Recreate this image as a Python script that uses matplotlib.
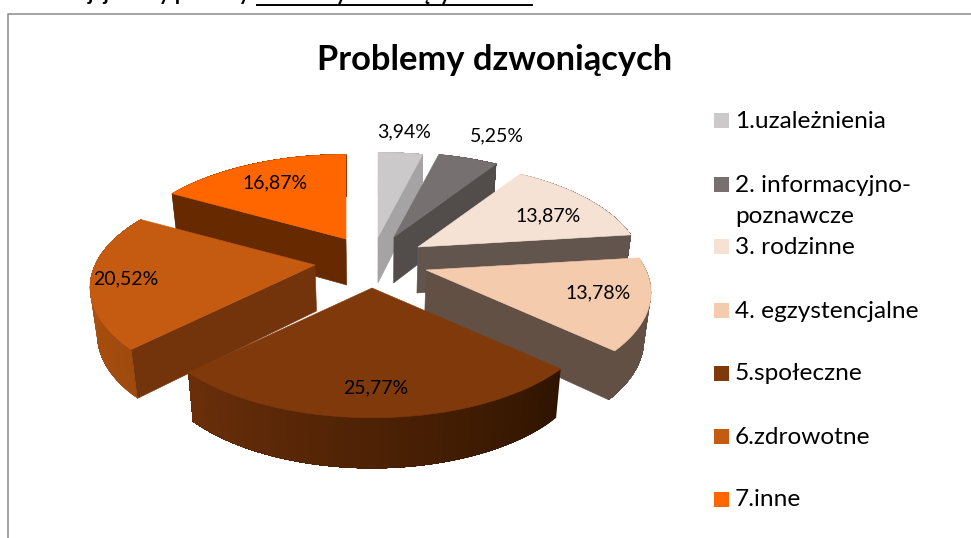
#!/usr/bin/env python3
"""Problemy dzwoniacych - exploded 3D pie, drawn as polygons in pixel space."""
import numpy as np
import matplotlib
matplotlib.use("Agg")
import matplotlib.pyplot as plt
from matplotlib.patches import Polygon, Rectangle

plt.rcParams['font.family'] = ['Lato', 'DejaVu Sans']

# Data
labels = ['1.uzależnienia', '2. informacyjno-\npoznawcze', '3. rodzinne',
          '4. egzystencjalne', '5.społeczne', '6.zdrowotne', '7.inne']
values = [3.94, 5.25, 13.87, 13.78, 25.77, 20.52, 16.87]

# Styles
top_colors = ['#cbc9c9', '#767170', '#f6e2d4', '#f5cbad', '#80390a', '#c55a11', '#ff6600']
side_colors = ['#a5a3a3', '#524d4b', '#62554e', '#625045', '#73340c', '#73340c', '#672a00']
# outer wall gradient, at slice start and slice end
outer_colors = [('#a5a3a3', '#a5a3a3'), ('#524d4b', '#524d4b'), ('#62554e', '#62554e'),
                ('#625045', '#625045'), ('#2f1400', '#6b2f0a'), ('#a04a0e', '#b8560f'),
                ('#672a00', '#672a00')]

# Layout (pixels)
apex = [(378, 237), (394, 237), (418, 247), (426, 270), (372, 288), (315, 265), (346, 239)]
label_pos = [(404, 132), (497, 136), (548, 216), (598, 293), (376, 388), (126, 279), (275, 183)]
legend_y = [120, 184, 246, 310, 373, 436, 499]
paint_order = [0, 1, 6, 2, 5, 3, 4]
RX, RY, PERSP, DEPTH = 220, 102.5, 0.21, 46
CENTER_X, BOTTOM_SHRINK = 375, 0.975


def project(theta):
    """Angle clockwise from 12 o'clock -> screen offset from the apex, plus wall height."""
    u, v = np.sin(theta), np.cos(theta)
    s = 1 / (1 + PERSP * v)
    return RX * u * s, -RY * v * s, DEPTH * s ** 0.4


def to_rgb(c):
    return np.array(matplotlib.colors.to_rgb(c))


def low_x(x):
    # bottom rim sits a little further from the eye, so it comes in towards the middle
    return CENTER_X + (x - CENTER_X) * BOTTOM_SHRINK


fig = plt.figure(figsize=(9.71, 5.38), dpi=100)
ax = fig.add_axes([0, 0, 1, 1])
ax.set_xlim(0, 971)
ax.set_ylim(538, 0)
ax.axis('off')

# chart frame
ax.plot([8, 8, 971], [538, 14, 14], color='#8c8c8c', lw=1.1, zorder=1)

# line of document text above the chart, cut by the top of the picture as in the original
ax.text(250, 0.5, 'jej formy pomocy', fontsize=15, fontweight='bold', ha='right', va='baseline')
ax.text(257, 0.5, 'Problemy dzwoniących', fontsize=15, fontweight='bold', ha='left', va='baseline')
ax.plot([257, 532], [5, 5], color='black', lw=1.4)

edges = np.cumsum([0] + values) / sum(values) * 2 * np.pi

for z, i in enumerate(paint_order):
    ax0, ay0 = apex[i]
    t0, t1 = edges[i], edges[i + 1]
    thetas = np.linspace(t0, t1, 90)
    xs, ys, ds = project(thetas)
    xs, ys = xs + ax0, ys + ay0
    base = 10 + z * 5

    # outer wall: each strip runs on to the slice end, the next one paints over it, so no seams
    c0, c1 = to_rgb(outer_colors[i][0]), to_rgb(outer_colors[i][1])
    for k in range(0, len(thetas) - 1):
        f = k / (len(thetas) - 2)
        col = c0 + (c1 - c0) * f
        upper = list(zip(xs[k:], ys[k:]))
        lower = list(zip(low_x(xs[k:]), ys[k:] + ds[k:]))[::-1]
        ax.add_patch(Polygon(upper + lower, closed=True, fc=col, ec='none', zorder=base))

    # the radial wall that faces the viewer
    idx = None
    if t1 < np.pi:
        idx = -1
    elif t0 > np.pi:
        idx = 0
    if idx is not None:
        quad = [(ax0, ay0), (xs[idx], ys[idx]), (low_x(xs[idx]), ys[idx] + ds[idx]),
                (low_x(ax0), ay0 + DEPTH)]
        ax.add_patch(Polygon(quad, closed=True, fc=side_colors[i], ec=side_colors[i], lw=0.4, zorder=base + 1))

    # top face
    pts = np.column_stack([np.r_[ax0, xs], np.r_[ay0, ys]])
    ax.add_patch(Polygon(pts, closed=True, fc=top_colors[i], ec=top_colors[i], lw=0.4, zorder=base + 2))

    txt = f'{values[i]:.2f}%'.replace('.', ',')
    ax.text(label_pos[i][0], label_pos[i][1], txt, fontsize=14, ha='center', va='center',
            color='black', zorder=100)

# title
ax.text(495, 60, 'Problemy dzwoniących', fontsize=24.8, fontweight='bold', ha='center', va='center',
        color='black', zorder=100)

# legend
for i, name in enumerate(labels):
    ax.add_patch(Rectangle((714, legend_y[i] - 7.5), 15, 15, fc=top_colors[i], ec='none', zorder=100))
    ax.text(735, legend_y[i] - 9.5, name, fontsize=17.6, ha='left', va='top', color='black',
            linespacing=1.6, zorder=100)

fig.savefig('out.png', dpi=100)
